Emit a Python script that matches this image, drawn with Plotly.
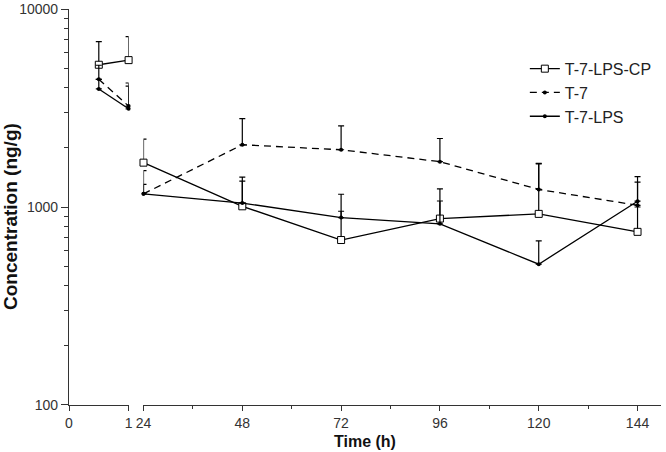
import plotly.graph_objects as go

# ---------------- data ----------------
times_early = [0.5, 1]
times_late = [24, 48, 72, 96, 120, 144]

cp_early = [5230, 5520]
cp_early_top = [6840, 7260]
cp_late = [1675, 1008, 681, 874, 923, 749]
cp_late_top = [2200, 1414, 952, 1235, 1650, 1000]

t7_early = [4416, 3234]
t7_early_top = [5200, 4230]
t7_late = [1166, 2062, 1946, 1694, 1227, 1020]
t7_late_top = [1527, 2793, 2570, 2218, 1662, 1425]

lps_early = [3948, 3134]
lps_early_top = [4416, 4080]
lps_late = [1166, 1047, 884, 822, 514, 1070]
lps_late_top = [1300, 1350, 1160, 1072, 675, 1335]

series = [
    ("T-7-LPS-CP", cp_early, cp_early_top, cp_late, cp_late_top,
     dict(symbol="square", size=7, color="white", line=dict(color="black", width=1)), "solid"),
    ("T-7", t7_early, t7_early_top, t7_late, t7_late_top,
     dict(symbol="circle", size=4, color="black"), "7px,5px"),
    ("T-7-LPS", lps_early, lps_early_top, lps_late, lps_late_top,
     dict(symbol="circle", size=4, color="black"), "solid"),
]

x_ticks_early = [0, 1]
x_ticks_late = [24, 48, 72, 96, 120, 144]
x_minor_late = [36, 60, 84, 108, 132]
y_ticks = [100, 1000, 10000]
y_minor = [200, 300, 400, 500, 600, 700, 800, 900,
           2000, 3000, 4000, 5000, 6000, 7000, 8000, 9000]

fig = go.Figure()
for name, ye, yet, yl, ylt, mk, dash in series:
    for xs, ys, tops, xa, show in [(times_early, ye, yet, "x", True),
                                   (times_late, yl, ylt, "x2", False)]:
        fig.add_trace(go.Scatter(
            x=xs, y=ys, xaxis=xa, yaxis="y", name=name, legendgroup=name,
            showlegend=show, mode="lines+markers",
            line=dict(color="black", width=1.3, dash=dash),
            marker=mk,
            error_y=dict(type="data", symmetric=False,
                         array=[t - v for t, v in zip(tops, ys)],
                         arrayminus=[0] * len(ys),
                         color="black", thickness=1.2, width=3),
            cliponaxis=False,
        ))

FAM = "Liberation Sans, Arial, sans-serif"
font = dict(family=FAM, size=14, color="#333")
axis_common = dict(showline=True, linecolor="#333", linewidth=1.2, ticks="outside",
                   tickcolor="#333", ticklen=5, showgrid=False, zeroline=False,
                   tickfont=font, ticklabeloverflow="allow")

fig.update_layout(
    width=666, height=452,
    paper_bgcolor="white", plot_bgcolor="white",
    margin=dict(l=69, r=1, t=6, b=47),
    font=font,
    xaxis=dict(domain=[0, 60 / 596], range=[0, 1], tickmode="array",
               tickvals=x_ticks_early, ticktext=[str(v) for v in x_ticks_early],
               anchor="y", **axis_common),
    xaxis2=dict(domain=[75 / 596, 1], range=[24, 149.7], tickmode="array",
                tickvals=x_ticks_late, ticktext=[str(v) for v in x_ticks_late],
                minor=dict(tickvals=x_minor_late, ticks="outside", ticklen=3,
                           tickcolor="#333"),
                anchor="y", **axis_common),
    yaxis=dict(type="log", range=[1.9999, 4.0001], tickmode="array", tickvals=y_ticks,
               ticktext=[str(v) for v in y_ticks], anchor="x",
               minor=dict(tickvals=y_minor, ticks="outside", ticklen=4,
                          tickcolor="#333"),
               **{**axis_common, "ticklen": 7}),
    legend=dict(x=0.77, y=0.892, xanchor="left", yanchor="top",
                bgcolor="rgba(0,0,0,0)", font=dict(family=FAM, size=16, color="#222"),
                tracegroupgap=0, itemwidth=30),
    annotations=[
        dict(text="<b>Time (h)</b>", xref="paper", yref="paper", x=0.5, y=0,
             yshift=-36, showarrow=False, yanchor="middle",
             font=dict(family=FAM, size=16, color="#111")),
        dict(text="<b>Concentration (ng/g)</b>", xref="paper", yref="paper",
             x=0, xshift=-59, y=0.5, yshift=-10, textangle=-90, showarrow=False,
             xanchor="center", yanchor="middle",
             font=dict(family=FAM, size=19, color="#111")),
    ],
)

fig.write_html("out.html", post_script="document.body.style.margin='0';",
               config={"displayModeBar": False})
